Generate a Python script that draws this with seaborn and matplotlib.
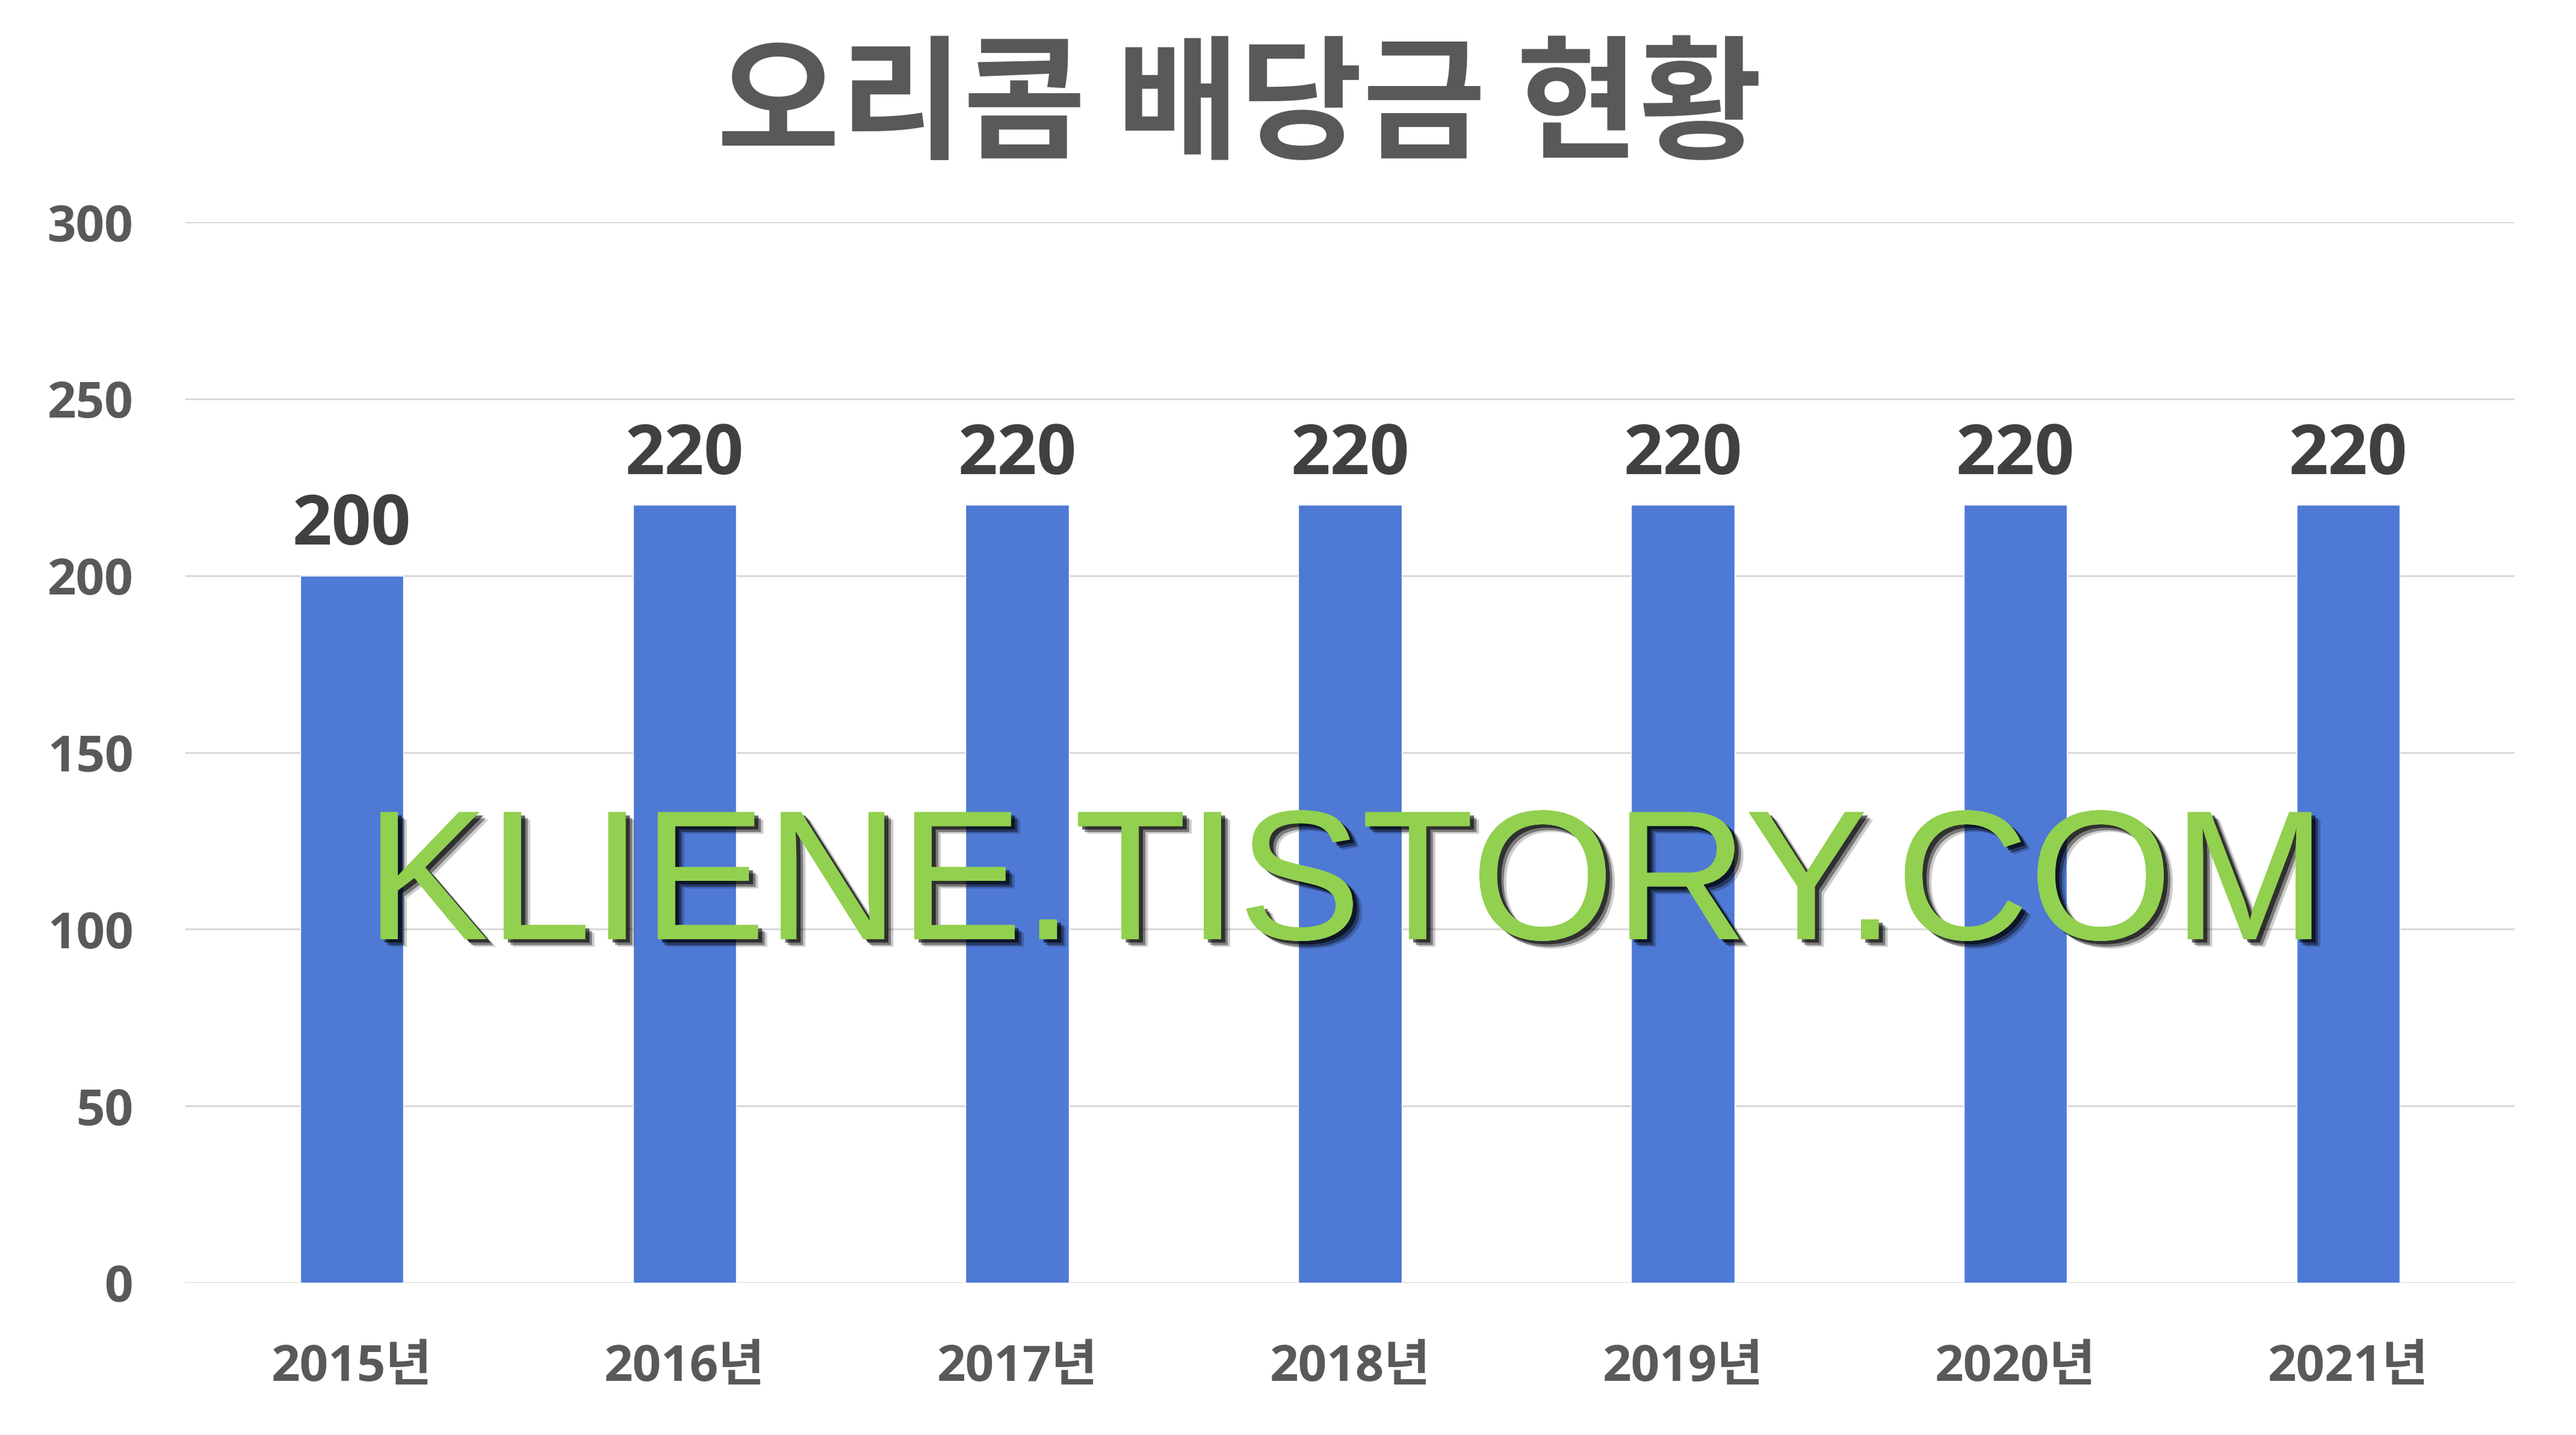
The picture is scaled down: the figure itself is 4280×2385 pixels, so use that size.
import matplotlib
matplotlib.use("Agg")
import matplotlib.pyplot as plt
import matplotlib.patheffects as pe
import seaborn as sns

# ------------------------
# Data
# ------------------------
years = ['2015년', '2016년', '2017년', '2018년', '2019년', '2020년', '2021년']
dividends = [200, 220, 220, 220, 220, 220, 220]
y_ticks = [0, 50, 100, 150, 200, 250, 300]

title_text = '오리콤 배당금 현황'
watermark_text = 'KLIENE.TISTORY.COM'

# ------------------------
# Style
# ------------------------
sns.set_theme(style='white')
plt.rcParams['font.family'] = ['Open Sans', 'Noto Sans CJK KR', 'DejaVu Sans']

bar_color = '#4E79D4'
tick_color = '#595959'
label_color = '#404040'

fig = plt.figure(figsize=(42.8, 23.85), dpi=100)
ax = fig.add_axes([0.07196, 0.10608, 0.9042, 0.7392])

sns.barplot(x=years, y=dividends, color=bar_color, saturation=1,
            width=0.31, ax=ax, zorder=2)

ax.set_xlim(-0.5, len(years) - 0.5)
ax.set_ylim(0, 300)
ax.set_yticks(y_ticks)
ax.yaxis.grid(True, color='#D9D9D9', linewidth=2.2)
ax.set_axisbelow(True)
for s in ax.spines.values():
    s.set_visible(False)

ax.set_xlabel('')
ax.set_ylabel('')
ax.tick_params(axis='both', length=0)
ax.tick_params(axis='y', pad=62)
ax.tick_params(axis='x', pad=72)
for lab in ax.get_yticklabels() + ax.get_xticklabels():
    lab.set_fontsize(60)
    lab.set_fontweight('bold')
    lab.set_color(tick_color)

# value labels on top of bars
ax.bar_label(ax.containers[0], labels=[str(v) for v in dividends],
             padding=17, fontsize=83, fontweight='bold', color=label_color)

# ------------------------
# Title and watermark
# ------------------------
fig.text(0.4813, 0.924, title_text, ha='center', va='center',
         fontsize=160, fontweight='heavy', color=tick_color,
         family=['Noto Sans CJK KR', 'DejaVu Sans'])

fig.text(0.5225, 0.3455, watermark_text, ha='center', va='baseline',
         fontsize=221, color='#92D050', family=['Liberation Sans', 'DejaVu Sans'],
         path_effects=[
             pe.withSimplePatchShadow(offset=(11, -9), shadow_rgbFace='#000000', alpha=0.2),
             pe.withSimplePatchShadow(offset=(8, -7), shadow_rgbFace='#000000', alpha=0.4),
             pe.withSimplePatchShadow(offset=(5, -4), shadow_rgbFace='#000000', alpha=0.6),
             pe.Normal()])

plt.savefig('out.png', dpi=100)
